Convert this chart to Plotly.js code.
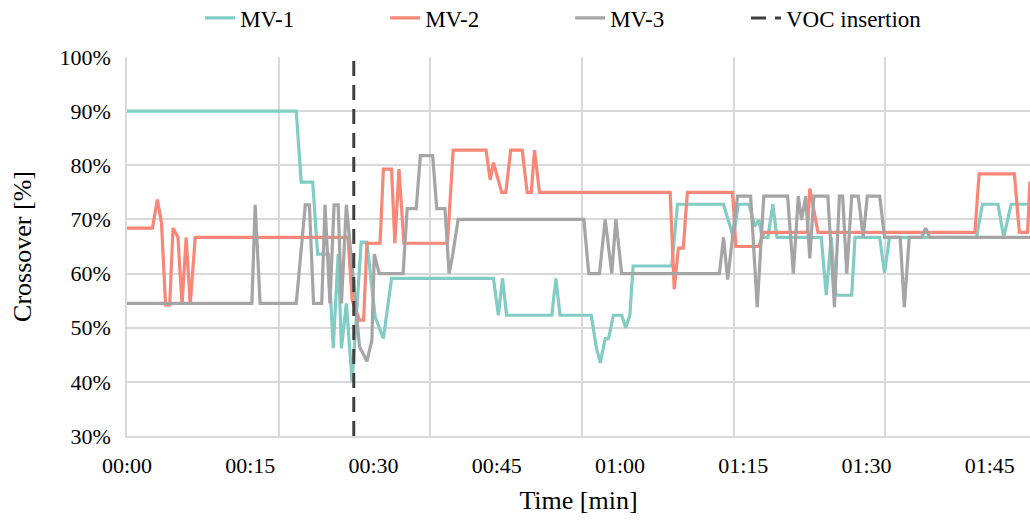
<!DOCTYPE html>
<html>
<head>
<meta charset="utf-8">
<script src="https://cdn.plot.ly/plotly-3.0.1.min.js"></script>
<style>html,body{margin:0;padding:0;background:#fff;}</style>
</head>
<body>
<div id="chart"></div>
<script>
// Time in minutes, crossover in %
const mv1Time = [0, 20.6, 21.2, 22.6, 23.2, 24.5, 25.1, 25.7, 26.1, 26.7, 27.4, 28.5, 29.2, 30.2, 31.2, 32.2, 44.6, 45.2, 45.7, 46.2, 51.7, 52.2, 52.7, 56.5, 57.1, 57.6, 58.2, 58.6, 59.2, 60.2, 60.7, 61.2, 61.6, 66.3, 67.0, 72.6, 73.8, 74.4, 75.7, 76.4, 76.9, 77.3, 78.0, 78.6, 79.1, 84.5, 85.1, 85.7, 86.3, 88.2, 88.6, 91.6, 92.2, 92.8, 103.4, 104.1, 106.0, 106.7, 107.6, 109.9];
const mv1Vals = [90, 90, 76.9, 76.9, 63.6, 63.6, 46.2, 63.6, 46.2, 54.5, 40.0, 65.8, 65.8, 52.0, 48.0, 59.1, 59.1, 52.3, 59.1, 52.3, 52.3, 59.1, 52.3, 52.3, 46.5, 43.5, 48.0, 48.0, 52.3, 52.3, 50.0, 52.3, 61.4, 61.4, 72.8, 72.8, 66.7, 72.8, 72.8, 68.7, 69.9, 66.7, 66.7, 72.8, 66.7, 66.7, 56.0, 66.7, 56.0, 56.0, 66.7, 66.7, 60.1, 66.7, 66.7, 72.8, 72.8, 66.7, 72.8, 72.8];

const mv2Time = [0, 3.1, 3.7, 4.2, 4.7, 5.2, 5.6, 6.2, 6.7, 7.2, 7.7, 8.3, 26.9, 27.4, 28.3, 28.8, 29.2, 30.8, 31.2, 32.2, 32.6, 33.1, 33.7, 39.0, 39.7, 43.7, 44.2, 44.6, 45.6, 46.1, 46.7, 48.1, 48.7, 49.2, 49.6, 50.2, 66.1, 66.6, 67.1, 67.7, 68.2, 73.7, 74.1, 76.9, 77.5, 82.8, 83.1, 84.1, 103.2, 103.7, 108.0, 108.6, 109.6, 109.9];
const mv2Vals = [68.4, 68.4, 73.7, 69.3, 54.2, 54.2, 68.4, 66.7, 54.2, 66.7, 54.2, 66.7, 66.7, 55.1, 51.4, 51.4, 65.6, 65.6, 79.3, 79.3, 65.6, 79.3, 65.6, 65.6, 82.8, 82.8, 77.3, 80.5, 75.0, 75.0, 82.8, 82.8, 75.0, 75.0, 82.8, 75.0, 75.0, 57.1, 64.7, 64.7, 75.0, 75.0, 65.0, 65.0, 67.6, 67.6, 75.7, 67.6, 67.6, 78.4, 78.4, 67.6, 67.6, 77.0];

const mv3Time = [0, 15.2, 15.6, 16.2, 20.6, 21.7, 22.2, 22.7, 23.7, 24.1, 24.7, 25.2, 25.7, 26.1, 26.7, 28.3, 29.2, 29.8, 30.1, 30.7, 33.6, 34.1, 35.2, 35.7, 37.2, 37.7, 38.7, 39.2, 39.6, 40.3, 55.6, 56.2, 57.5, 58.2, 59.0, 59.5, 60.2, 72.1, 72.6, 73.1, 73.7, 74.3, 75.9, 76.7, 77.5, 80.4, 81.1, 81.7, 82.1, 82.6, 83.1, 83.6, 85.3, 86.1, 86.7, 87.1, 87.6, 88.2, 89.0, 89.6, 90.1, 91.6, 92.2, 94.1, 94.6, 95.2, 96.7, 97.2, 97.7, 109.9];
const mv3Vals = [54.5, 54.5, 72.7, 54.5, 54.5, 72.7, 72.7, 54.5, 54.5, 72.7, 54.5, 72.7, 72.7, 54.5, 72.7, 46.5, 43.8, 47.7, 63.6, 60.0, 60.0, 72.0, 72.0, 81.8, 81.8, 72.0, 72.0, 60.0, 63.1, 70.0, 70.0, 60.0, 60.0, 70.0, 60.0, 70.0, 60.0, 60.0, 66.7, 58.9, 66.7, 74.3, 74.3, 53.8, 74.3, 74.3, 60.0, 74.3, 69.9, 74.3, 62.8, 74.3, 74.3, 53.8, 74.3, 74.3, 60.0, 74.3, 74.3, 66.7, 74.3, 74.3, 66.7, 66.7, 53.8, 66.7, 66.7, 68.4, 66.7, 66.7];

const vocTime = [27.6, 27.6];
const vocVals = [30, 100];

const tickMinutes = [0, 15, 30, 45, 60, 75, 90, 105];
const tickLabels = ["00:00", "00:15", "00:30", "00:45", "01:00", "01:15", "01:30", "01:45"];
const seriesNames = ["MV-1", "MV-2", "MV-3", "VOC insertion"];

const FONT = "Liberation Serif";
const xRange = [0, 109.9];
const gridCol = "#D9D9D9";

const traces = [
  {x: mv1Time, y: mv1Vals, name: seriesNames[0], mode: "lines", line: {color: "#82CCC6", width: 3.2}},
  {x: mv2Time, y: mv2Vals, name: seriesNames[1], mode: "lines", line: {color: "#FA8677", width: 3.2}},
  {x: mv3Time, y: mv3Vals, name: seriesNames[2], mode: "lines", line: {color: "#A5A5A5", width: 3.2}},
  {x: vocTime, y: vocVals, name: seriesNames[3], mode: "lines", xaxis: "x2", legend: "legend2",
   line: {color: "#404040", width: 3, dash: "15px,9px"}}
];

const legendFont = {family: FONT, size: 23, color: "#000"};

const layout = {
  width: 1030, height: 523,
  margin: {l: 127, r: 0, t: 57, b: 87, autoexpand: false},
  paper_bgcolor: "#fff", plot_bgcolor: "#fff",
  font: {family: FONT, size: 22, color: "#000"},
  showlegend: true,
  legend: {orientation: "h", x: 0.081, xanchor: "left", y: 1.103, yanchor: "middle",
           font: legendFont, entrywidth: 140, bgcolor: "rgba(0,0,0,0)"},
  legend2: {orientation: "h", x: 0.6855, xanchor: "left", y: 1.103, yanchor: "middle",
           font: legendFont, bgcolor: "rgba(0,0,0,0)"},
  xaxis: {range: xRange, tickmode: "array", tickvals: tickMinutes, ticktext: tickLabels,
          showgrid: false, zeroline: false, showline: true, linecolor: gridCol, linewidth: 1.5,
          ticks: "", ticklabelstandoff: 9, tickfont: {family: FONT, size: 22, color: "#000"},
          title: {text: "Time [min]", font: {family: FONT, size: 26, color: "#000"}, standoff: 14}},
  xaxis2: {range: xRange, overlaying: "x", side: "bottom", tick0: 0, dtick: 15 * 16 / 13,
           showgrid: true, gridcolor: gridCol, gridwidth: 1.5, showticklabels: false, ticks: "",
           zeroline: false, showline: false},
  yaxis: {range: [30, 100], dtick: 10, ticksuffix: "%", showgrid: true, gridcolor: gridCol, gridwidth: 1.5,
          zeroline: false, showline: true, linecolor: gridCol, linewidth: 1.5, ticks: "", ticklabelstandoff: 10,
          tickfont: {family: FONT, size: 22, color: "#000"},
          title: {text: "Crossover [%]", font: {family: FONT, size: 26, color: "#000"}, standoff: 20}}
};

Plotly.newPlot("chart", traces, layout, {displayModeBar: false});
</script>
</body>
</html>
